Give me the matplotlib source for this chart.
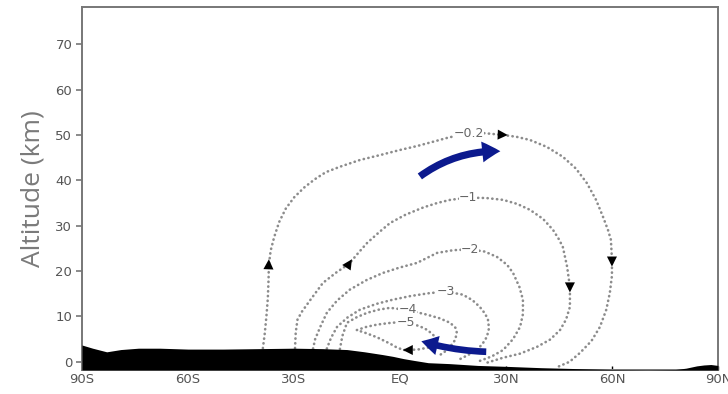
import matplotlib
matplotlib.use("Agg")
import matplotlib.pyplot as plt
from matplotlib.patches import FancyArrowPatch

# ---- axis definitions ----
lat_ticks = [-90, -60, -30, 0, 30, 60, 90]
lat_labels = ["90S", "60S", "30S", "EQ", "30N", "60N", "90N"]
alt_ticks = [0, 10, 20, 30, 40, 50, 60, 70]

# ---- topography (zonal-mean surface height, km) ----
topo_lat = [-90, -87, -83, -79, -74, -68, -60, -50, -40, -30, -22, -15, -10, -5, -2,
            1, 4, 8, 14, 22, 30, 40, 50, 60, 70, 78, 81, 84, 86, 88, 90]
topo_alt = [3.7, 3.0, 2.2, 2.7, 3.0, 3.0, 2.8, 2.8, 2.9, 3.0, 2.9, 2.7, 2.2, 1.6, 1.2,
            0.7, 0.3, -0.2, -0.4, -0.8, -1.0, -1.3, -1.5, -1.7, -1.75, -1.7, -1.4, -0.9,
            -0.7, -0.6, -0.8]

# ---- streamfunction contours (lat, altitude) ----
c02_lat = [-38.8, -38.3, -37.8, -37.4, -37.2, -37.1, -36.6, -35.6, -34.2, -32.3, -29.9,
           -27.0, -24.0, -21.0, -17.0, -11.3, -5.5, 0.0, 5.0, 9.3, 14.0, 19.5, 24.0,
           29.2, 33.0, 36.8, 41.5, 46.1, 49.8, 52.9, 55.5, 57.5, 58.9, 59.7, 60.0,
           60.0, 59.4, 58.4, 56.6, 54.2, 51.0, 48.0, 45.0]
c02_alt = [3.0, 6.0, 10.0, 14.0, 18.0, 21.4, 24.5, 27.5, 30.8, 33.8, 36.3,
           38.5, 40.3, 41.8, 43.0, 44.5, 45.6, 46.7, 47.6, 48.5, 49.5, 50.3, 50.4,
           50.0, 49.6, 48.9, 47.4, 45.2, 42.6, 39.4, 35.7, 31.9, 29.0, 26.9, 22.5,
           19.0, 15.2, 11.5, 7.7, 4.6, 2.0, 0.0, -1.0]

c1_lat = [-29.7, -29.5, -29.0, -27.8, -25.5, -21.8, -18.0, -14.4, -11.8, -9.3, -6.0,
          -2.8, 1.5, 6.5, 10.5, 14.2, 19.3, 24.5, 29.2, 33.2, 36.8, 40.5, 43.3, 45.0,
          46.1, 47.3, 48.1, 48.1, 47.0, 45.3, 42.5, 38.8, 34.0, 29.2, 24.6]
c1_alt = [3.0, 6.5, 9.3, 11.0, 13.5, 17.4, 19.7, 21.6, 24.0, 26.2, 28.5,
          30.6, 32.4, 34.0, 35.0, 35.7, 36.2, 36.1, 35.7, 34.8, 33.5, 31.5, 29.1, 27.0,
          25.3, 21.0, 16.5, 12.1, 9.3, 7.0, 4.9, 3.3, 1.8, 0.9, -0.2]

c2_lat = [-24.6, -24.0, -22.5, -20.7, -17.8, -14.2, -9.5, -4.8, 0.0, 4.8, 10.5, 15.0,
          19.8, 24.0, 27.5, 30.3, 32.0, 33.8, 34.8, 34.8, 34.0, 32.0, 29.2, 26.0, 22.6]
c2_alt = [2.9, 5.0, 7.8, 10.8, 13.5, 15.9, 18.0, 19.6, 20.8, 21.8, 24.0, 24.6,
          24.8, 24.3, 23.1, 21.4, 19.6, 16.5, 13.7, 10.5, 7.7, 5.0, 2.6, 1.2, 0.2]

c3_lat = [-20.7, -19.5, -17.8, -14.8, -11.3, -6.5, -2.0, 3.0, 8.0, 12.9, 17.8, 20.5,
          22.6, 24.1, 24.9, 25.2, 24.6, 23.4, 21.8, 19.5, 17.0]
c3_alt = [2.9, 5.3, 7.7, 9.8, 11.5, 12.8, 13.7, 14.5, 15.1, 15.5, 14.8, 13.6,
          12.1, 10.6, 9.3, 7.4, 5.5, 4.0, 2.6, 1.6, 0.6]

c4_lat = [-17.0, -16.3, -15.0, -12.3, -9.3, -6.0, -2.8, 2.2, 7.6, 11.2, 14.2, 15.7,
          16.1, 15.6, 14.2, 12.5, 10.5]
c4_alt = [2.8, 5.7, 8.6, 9.8, 10.8, 11.5, 11.9, 11.4, 10.4, 9.6, 8.6, 7.5,
          6.4, 4.8, 3.3, 2.1, 1.1]

c5_lat = [-12.2, -9.5, -6.5, -2.5, 1.8, 5.7, 7.8, 9.3, 10.3, 10.5, 9.8, 8.5, 5.0,
          1.0, -1.0, -2.8, -6.5, -9.5, -12.2]
c5_alt = [7.0, 7.7, 8.2, 8.6, 8.8, 7.8, 7.0, 6.0, 5.2, 4.5, 3.7, 3.2, 2.7,
          2.6, 3.2, 4.0, 5.4, 6.3, 7.0]

contour_lats = [c02_lat, c1_lat, c2_lat, c3_lat, c4_lat, c5_lat]
contour_alts = [c02_alt, c1_alt, c2_alt, c3_alt, c4_alt, c5_alt]

# contour labels: text, lat, alt
label_text = ["\u22120.2", "\u22121", "\u22122", "\u22123", "\u22124", "\u22125"]
label_lat = [19.5, 19.3, 19.8, 12.9, 2.2, 1.8]
label_alt = [50.3, 36.2, 24.8, 15.5, 11.6, 8.7]

# flow-direction arrowheads on contours: (from lat, from alt) -> (to lat, to alt)
head_from_lat = [-37.3, 27.0, 60.0, -15.6, 48.1, 4.0]
head_from_alt = [19.0, 50.1, 25.0, 20.2, 19.0, 2.6]
head_to_lat = [-37.1, 30.5, 60.0, -13.6, 48.1, 0.8]
head_to_alt = [22.6, 50.0, 21.0, 22.6, 15.3, 2.6]

# schematic circulation arrows (tail -> tip)
upper_tail = (5.0, 40.5)
upper_tip = (29.2, 46.4)
lower_tail = (25.2, 2.2)
lower_tip = (5.3, 4.7)

GREY = "#777777"
NAVY = "#0c1a8e"

fig = plt.figure(figsize=(7.28, 3.94), dpi=100)
ax = fig.add_axes([0.1126, 0.061, 0.8736, 0.921])
ax.set_xlim(-90, 90)
ax.set_ylim(-1.8, 78.2)

# topography
ax.fill_between(topo_lat, topo_alt, -1.8, color="black", lw=0, zorder=3)

# dotted contours
for la, al in zip(contour_lats, contour_alts):
    ax.plot(la, al, color="#8c8c8c", lw=1.9, linestyle=(0, (0.1, 1.7)),
            dash_capstyle="round", solid_joinstyle="round", zorder=2)

# contour labels
for t, la, al in zip(label_text, label_lat, label_alt):
    ax.text(la, al, t, color="#666666", fontsize=9, ha="center", va="center",
            bbox=dict(facecolor="white", edgecolor="none", pad=0.1), zorder=4)

# flow direction heads
for x0, y0, x1, y1 in zip(head_from_lat, head_from_alt, head_to_lat, head_to_alt):
    ax.annotate("", xy=(x1, y1), xytext=(x0, y0),
                arrowprops=dict(arrowstyle="-|>,head_length=0.8,head_width=0.4",
                                mutation_scale=9, color="black", lw=0.01,
                                shrinkA=0, shrinkB=0),
                zorder=5)

# schematic circulation arrows
up = FancyArrowPatch(upper_tail, upper_tip, connectionstyle="arc3,rad=-0.18",
                     arrowstyle="simple,head_width=0.75,head_length=0.65,tail_width=0.26",
                     mutation_scale=20, color=NAVY, lw=0, zorder=6)
ax.add_patch(up)
lo = FancyArrowPatch(lower_tail, lower_tip, connectionstyle="arc3,rad=-0.07",
                     arrowstyle="simple,head_width=0.7,head_length=0.6,tail_width=0.24",
                     mutation_scale=20, color=NAVY, lw=0, zorder=6)
ax.add_patch(lo)

# axes styling
ax.set_xticks(lat_ticks)
ax.set_xticklabels(lat_labels)
ax.set_yticks(alt_ticks)
for s in ax.spines.values():
    s.set_color(GREY)
    s.set_linewidth(1.4)
ax.tick_params(axis="y", direction="out", length=4, width=1.2, color=GREY,
               labelcolor="#555555", labelsize=9.5, pad=3)
ax.tick_params(axis="x", direction="in", length=3, width=1, color="black",
               labelcolor="#555555", labelsize=9.5, pad=2)
ax.set_ylabel("Altitude (km)", fontsize=19, color="#7a7a7a", family="Open Sans",
              labelpad=7)

fig.savefig("out.png", dpi=100)
